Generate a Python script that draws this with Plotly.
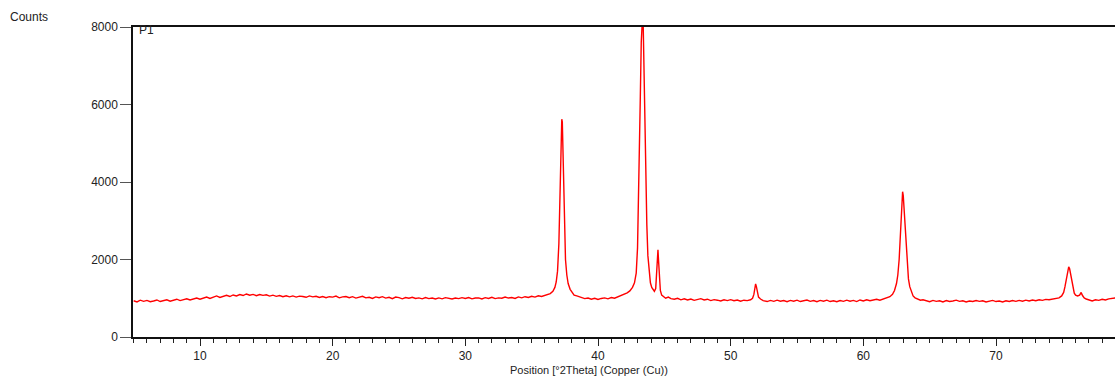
import numpy as np
import plotly.graph_objects as go

# ---- background segments (0.25 deg grid) ----
bg_a_angle = np.arange(5.0, 35.76, 0.25)
bg_a_counts = [
    935, 905, 950, 920,   945, 910, 930, 955,   915, 940, 960, 925,
    950, 975, 940, 965,   985, 955, 990, 1005,  975, 1010, 1030, 995,
    1035, 1060, 1020, 1055, 1075, 1045, 1085, 1060, 1095, 1070, 1110, 1080,
    1100, 1065, 1095, 1075, 1090, 1055, 1080, 1050, 1070, 1040, 1065, 1035,
    1060, 1030, 1055, 1045, 1025, 1060, 1035, 1050, 1020, 1045, 1015, 1040,
    1030, 1055, 1010, 1035, 1045, 1015, 1040, 1005, 1030, 1050, 1010, 1025,
    995, 1035, 1015, 1040, 1005, 1025, 990, 1030, 1015, 985, 1020, 1000,
    1025, 995, 1010, 985, 1020, 990, 1005, 980, 1010, 985, 1015, 995,
    980, 1005, 990, 1015, 995, 1020, 985, 1005, 1010, 980, 1015, 995,
    1025, 990, 1010, 1000, 1030, 1005, 1020, 995, 1035, 1010, 1040, 1020,
    1050, 1030, 1065, 1045,
]
bg_b_angle = np.arange(39.25, 41.26, 0.25)
bg_b_counts = [1005, 975, 1000, 970, 995, 1010, 985, 1020, 1000]
bg_c_angle = np.arange(45.75, 51.26, 0.25)
bg_c_counts = [975, 1000, 960, 985, 955, 980, 945, 970, 990, 955, 975, 940,
               965, 950, 930, 960, 940, 965, 935, 955, 925, 950, 940]
bg_d_angle = np.arange(52.75, 61.26, 0.25)
bg_d_counts = [915, 945, 920, 950, 925, 940, 910, 945, 925, 950, 915, 935,
               955, 920, 940, 910, 945, 925, 950, 915, 935, 910, 940, 920,
               950, 925, 945, 915, 955, 930, 960, 935, 955, 975, 950]
bg_e_angle = np.arange(64.75, 73.76, 0.25)
bg_e_counts = [935, 910, 945, 920, 935, 905, 940, 915, 930, 950, 920, 935,
               905, 930, 915, 940, 920, 935, 905, 925, 945, 915, 930, 905,
               935, 915, 940, 920, 945, 925, 950, 930, 955, 935, 960, 945, 970]
bg_f_angle = np.arange(77.0, 79.01, 0.25)
bg_f_counts = [955, 930, 960, 945, 975, 955, 985, 1000, 1010]

# ---- peak regions ----
pk1_angle = [36.0, 36.2, 36.4, 36.6, 36.75, 36.85, 36.95, 37.05, 37.12, 37.18,
             37.23, 37.27, 37.31, 37.36, 37.42, 37.48, 37.55, 37.65, 37.75,
             37.9, 38.05, 38.2, 38.4, 38.6, 38.8, 39.0]
pk1_counts = [1070, 1090, 1120, 1180, 1280, 1420, 1700, 2400, 3300, 4300,
              5300, 5620, 5550, 4700, 3600, 2700, 2000, 1600, 1380,
              1230, 1150, 1080, 1060, 1030, 1010, 990]
pk2_angle = [41.5, 41.75, 42.0, 42.2, 42.4, 42.6, 42.75, 42.88, 42.98, 43.05,
             43.12, 43.19, 43.26, 43.31, 43.36, 43.41, 43.47, 43.53, 43.6,
             43.68, 43.76, 43.85, 43.95, 44.05, 44.15, 44.25, 44.35, 44.42,
             44.48, 44.52, 44.56, 44.62, 44.7, 44.8, 44.95, 45.1, 45.3, 45.5]
pk2_counts = [1040, 1070, 1100, 1140, 1190, 1280, 1400, 1650, 2300, 3400,
              4700, 6200, 7600, 8200, 8300, 8000, 6900, 5500, 4000,
              2900, 2100, 1650, 1400, 1280, 1210, 1180, 1250, 1600,
              2100, 2250, 2000, 1500, 1200, 1080, 1040, 1000, 1030, 990]
pk3_angle = [51.5, 51.65, 51.75, 51.82, 51.88, 51.94, 52.0, 52.1, 52.25, 52.45]
pk3_counts = [960, 1000, 1100, 1250, 1370, 1300, 1150, 1030, 980, 940]
pk4_angle = [61.5, 61.75, 62.0, 62.2, 62.35, 62.5, 62.6, 62.7, 62.78, 62.85,
             62.91, 62.96, 63.01, 63.07, 63.14, 63.22, 63.3, 63.4, 63.5,
             63.62, 63.75, 63.9, 64.1, 64.3, 64.5]
pk4_counts = [980, 1000, 1040, 1100, 1200, 1380, 1600, 2000, 2500, 3100,
              3600, 3750, 3650, 3300, 2800, 2300, 1850, 1500, 1300,
              1150, 1060, 1010, 975, 950, 960]
pk5_angle = [74.0, 74.25, 74.5, 74.75, 74.95, 75.1, 75.2, 75.3, 75.4, 75.48,
             75.55, 75.63, 75.72, 75.8, 75.9, 76.0, 76.15, 76.3, 76.42,
             76.52, 76.65, 76.8]
pk5_counts = [960, 975, 990, 1010, 1060, 1150, 1300, 1500, 1720, 1810,
              1760, 1600, 1400, 1250, 1130, 1080, 1060, 1080, 1150,
              1070, 1010, 980]

y_ticks = [0, 2000, 4000, 6000, 8000]
x_ticks = [10, 20, 30, 40, 50, 60, 70]

segments = [
    (bg_a_angle, bg_a_counts), (pk1_angle, pk1_counts),
    (bg_b_angle, bg_b_counts), (pk2_angle, pk2_counts),
    (bg_c_angle, bg_c_counts), (pk3_angle, pk3_counts),
    (bg_d_angle, bg_d_counts), (pk4_angle, pk4_counts),
    (bg_e_angle, bg_e_counts), (pk5_angle, pk5_counts),
    (bg_f_angle, bg_f_counts),
]
angle, counts = [], []
for a, c in segments:
    assert len(a) == len(c), (len(a), len(c))
    angle.extend([float(v) for v in a])
    counts.extend(list(c))

FONT = "Liberation Sans, Arial, sans-serif"

fig = go.Figure()
fig.add_trace(go.Scatter(x=angle, y=counts, mode="lines",
                         line=dict(color="#ff0000", width=1.4),
                         hoverinfo="skip", showlegend=False))

fig.update_layout(
    width=1115, height=378,
    margin=dict(l=133, r=0, t=27, b=41),
    paper_bgcolor="white", plot_bgcolor="white",
    font=dict(family=FONT, size=12, color="#222222"),
    xaxis=dict(range=[4.95, 78.97], tickvals=x_ticks, ticks="outside",
               ticklen=7, tickwidth=1, tickcolor="#222222",
               minor=dict(dtick=1, ticks="outside", ticklen=4, tickcolor="#222222", tickwidth=1),
               showline=True, linecolor="#111111", linewidth=1.5, mirror=True,
               showgrid=False, zeroline=False, tickfont=dict(size=12)),
    yaxis=dict(range=[0, 8000], tickvals=y_ticks, tickformat="d", ticks="outside",
               ticklen=11, tickwidth=1, tickcolor="#555555",
               showline=True, linecolor="#111111", linewidth=1.5,
               showgrid=False, zeroline=False, tickfont=dict(size=12)),
)

fig.add_annotation(text="Counts", xref="paper", yref="paper",
                   x=-133 / 982 + 8 / 982, y=1 + 10 / 310, xanchor="left", yanchor="middle",
                   showarrow=False, font=dict(size=12))
fig.add_annotation(text="P1", xref="paper", yref="paper",
                   x=4 / 982, y=1 - 3 / 310, xanchor="left", yanchor="middle",
                   showarrow=False, font=dict(size=12))
fig.add_annotation(text="Position [°2Theta] (Copper (Cu))", xref="paper", yref="paper",
                   x=(589 - 133) / 982, y=-(370 - 337) / 310, xanchor="center", yanchor="middle",
                   showarrow=False, font=dict(size=11))

fig.write_html("out.html",
               config={"displayModeBar": False},
               post_script="document.body.style.margin='0';"
                           "document.documentElement.style.overflow='hidden';")
